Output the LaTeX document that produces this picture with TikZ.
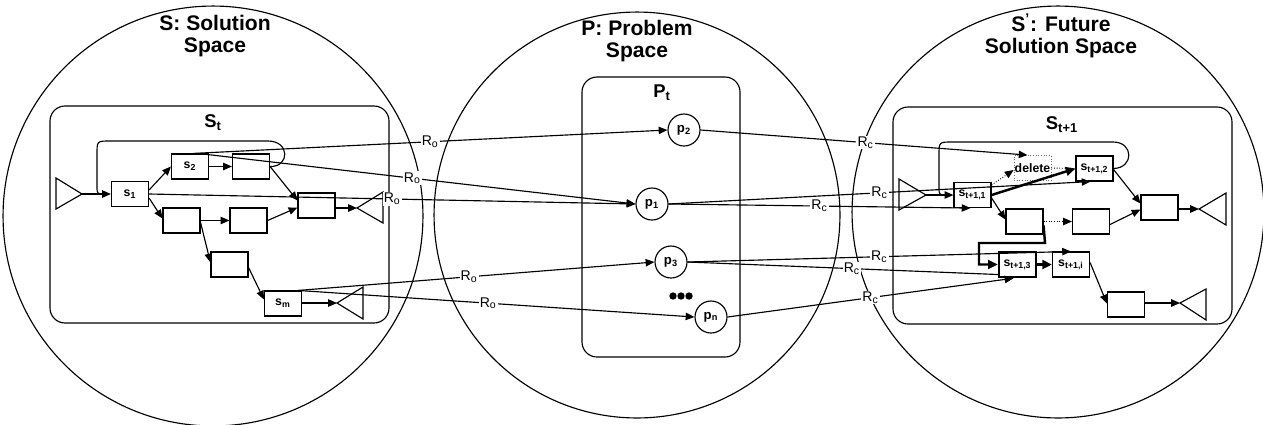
\documentclass[tikz,border=0pt]{standalone}
\usepackage{fontspec}
\setmainfont{Liberation Sans}
\usetikzlibrary{arrows.meta,calc}
\tikzset{
  blk/.style={draw, minimum width=0.74cm, minimum height=0.5cm, inner sep=0pt, font=\fontsize{7}{8}\selectfont\bfseries},
  thickblk/.style={blk, line width=1.4pt},
  dotblk/.style={blk, draw=black!60, densely dotted, line width=0.5pt},
  prob/.style={draw, circle, minimum size=0.64cm, inner sep=0pt, font=\fontsize{7.5}{8}\selectfont\bfseries},
  arr/.style={-{Triangle[length=5pt,width=4.2pt]}},
  tarr/.style={line width=1.4pt, -{Triangle[length=5.5pt,width=5pt]}},
  rel/.style={fill=white, inner sep=0.6pt, font=\fontsize{8}{9}\selectfont},
  spacetitle/.style={align=center, font=\fontsize{12}{13}\selectfont\bfseries},
  paneltitle/.style={font=\fontsize{10.5}{12}\selectfont\bfseries},
  panel/.style={draw, rounded corners=0.3cm},
  dotarr/.style={densely dotted, line width=0.5pt, -{Triangle[length=5pt,width=4.2pt]}}
}
\begin{document}
\begin{tikzpicture}[x=0.02cm, y=-0.02cm, line width=0.65pt]
\useasboundingbox (0,0) rectangle (1263,424);
% spaces
\draw (213,216) circle[radius=4.2cm];
\draw (637,215) circle[radius=4.06cm];
\draw (1058,212) circle[radius=4.12cm];
\node[spacetitle] (tS) at (215,36) {S: Solution\\Space};
\node[spacetitle] (tP) at (637,41) {P: Problem\\Space};
\node[spacetitle] (tF) at (1061,36) {S\textsuperscript{'}: Future\\Solution Space};
% panels
\draw[panel] (50,106) rectangle (389,323);
\draw[panel] (582,77) rectangle (740,357);
\draw[panel] (893,107) rectangle (1232,324);
\node[paneltitle] (lSt) at (213,123) {S\textsubscript{t}};
\node[paneltitle] (lPt) at (662,93) {P\textsubscript{t}};
\node[paneltitle] (lSt1) at (1062,125) {S\textsubscript{t+1}};

% ---------- left graph
\node[blk] (s1) at (130,194) {s\textsubscript{1}};
\node[blk] (s2) at (190,166.5) {s\textsubscript{2}};
\node[blk] (bA) at (251,166.5) {};
\node[blk] (bB) at (181.5,220.5) {};
\node[blk] (bC) at (248.5,220.5) {};
\node[blk] (bD) at (229.5,264.5) {};
\node[blk] (sm) at (283,303.5) {s\textsubscript{m}};
\node[blk] (bE) at (316.5,205.5) {};
\coordinate (lt0) at (82,194);
\coordinate (lt1) at (357,208);
\coordinate (lt2) at (337,303);
\draw (lt0) -- (56,178) -- (56,209) -- cycle;
\draw (lt1) -- (383,192) -- (383,223) -- cycle;
\draw (lt2) -- (363,287) -- (363,319) -- cycle;

\draw[arr] (lt0) -- (s1.west);
\draw (bA.east) .. controls (290,167) and (290,141) .. (268,141) -- (110,141) .. controls (97,141) .. (97,154) -- (97,186) .. controls (97,194) .. (105,194);
\draw[arr] ($(s1.east)+(0,-4)$) -- (s2.west);
\draw[arr] (s2.east) -- (bA.west);
\draw[arr] ($(s1.east)+(0,4)$) -- ($(bB.west)+(0,-2)$);
\draw[arr] (bB.east) -- (bC.west);
\draw[arr] ($(bB.east)+(0,2)$) -- ($(bD.west)+(0,-2)$);
\draw[arr] (bA.east) -- ($(bE.west)+(0,-5)$);
\draw[arr] (bC.east) -- ($(bE.west)+(0,2)$);
\draw[arr] ($(bD.east)+(0,3)$) -- ($(sm.west)+(0,-4)$);
\draw[arr] (bE.east |- lt1) -- (lt1);
\draw[arr] (sm.east |- lt2) -- (lt2);

% ---------- problem nodes
\node[prob] (p2) at (684,130) {p\textsubscript{2}};
\node[prob] (p1) at (652,204) {p\textsubscript{1}};
\node[prob] (p3) at (671,262) {p\textsubscript{3}};
\node[prob] (pn) at (711,317) {p\textsubscript{n}};
\fill (673,296) circle[radius=2.1pt];
\fill (681,296) circle[radius=2.1pt];
\fill (689,296) circle[radius=2.1pt];

% ---------- right graph
\node[blk] (r1) at (972.5,195) {s\textsubscript{t+1,1}};
\node[dotblk] (del) at (1032.5,168) {delete};
\node[blk] (r2) at (1094.5,168.5) {s\textsubscript{t+1,2}};
\node[blk] (rF) at (1024.5,221.5) {};
\node[blk] (rG) at (1091,221.5) {};
\node[thickblk] (r3) at (1017.5,264.5) {s\textsubscript{t+1,3}};
\node[blk] (ri) at (1071,264.5) {s\textsubscript{t+1,i}};
\node[blk] (rH) at (1126,304.5) {};
\node[blk] (rI) at (1159.5,207.5) {};
\coordinate (rt0) at (926,195);
\coordinate (rt1) at (1199,209);
\coordinate (rt2) at (1180,303);
\draw (rt0) -- (899,179) -- (899,210) -- cycle;
\draw (rt1) -- (1226,193) -- (1226,225) -- cycle;
\draw (rt2) -- (1206,289) -- (1206,320) -- cycle;

\draw[arr] (rt0) -- (r1.west);
\draw (r2.east) .. controls (1134,168) and (1134,142) .. (1113,142) -- (952,142) .. controls (939,142) .. (939,155) -- (939,187) .. controls (939,195) .. (947,195);
\draw[dotarr] ($(r1.east)+(0,-10)$) -- ($(del.west)+(0,2)$);
\draw[densely dotted, line width=0.5pt] (del.east) -- (r2.west);
\draw[tarr] (r1.east) -- (r2.west);
\draw[arr] ($(r1.east)+(0,3)$) -- ($(rF.west)+(0,-2)$);
\draw[dotarr] (rF.east) -- (rG.west);
\draw[arr] ($(rG.east)+(0,3)$) -- ($(rI.west)+(0,2)$);
\draw[arr] ($(r2.east)+(0,1)$) -- ($(rI.west)+(0,-4)$);
\draw[arr] (rI.east |- rt1) -- (rt1);
\draw[tarr] ($(rF.east)+(0,4)$) -- (1045,243) -- (979,243) |- (r3.west);
\draw[tarr] (r3.east) -- (ri.west);
\draw[arr] ($(ri.east)+(0,-2)$) -- ($(rH.west)+(0,-1)$);
\draw[arr] (rH.east |- rt2) -- (rt2);

% ---------- R_o relations
\draw[arr] ($(s2.north)+(3,0)$) -- node[rel, pos=0.5] {R\textsubscript{o}} (p2.west);
\draw[arr] ($(s2.north)+(8,0)$) -- node[rel, pos=0.49] {R\textsubscript{o}} (p1.west);
\draw[arr] (s1.east) -- node[rel, pos=0.5] {R\textsubscript{o}} (p1.west);
\draw[arr] ($(sm.north)+(15,0)$) -- node[rel, pos=0.48] {R\textsubscript{o}} (p3.west);
\draw[arr] ($(sm.north)+(15,0)$) -- node[rel, pos=0.48] {R\textsubscript{o}} (pn.west);

% ---------- R_c relations
\draw[arr] (p2.east) -- node[rel, pos=0.505] {R\textsubscript{c}} ($(del.north)+(-5,0)$);
\draw[arr] (p1.east) -- node[rel, pos=0.5] {R\textsubscript{c}} ($(r2.south)+(-4,0)$);
\draw[arr] (p1.east) -- node[rel, pos=0.5] {R\textsubscript{c}} ($(r1.south)+(-2,0)$);
\draw[arr] (p3.east) -- node[rel, pos=0.5] {R\textsubscript{c}} (ri.north);
\draw (p3.east) -- node[rel, pos=0.53] {R\textsubscript{c}} ($(r3.west)+(0,10)$);
\draw[arr] (pn.east) -- node[rel, pos=0.5] {R\textsubscript{c}} ($(r3.south)+(-4,0)$);
\end{tikzpicture}
\end{document}
